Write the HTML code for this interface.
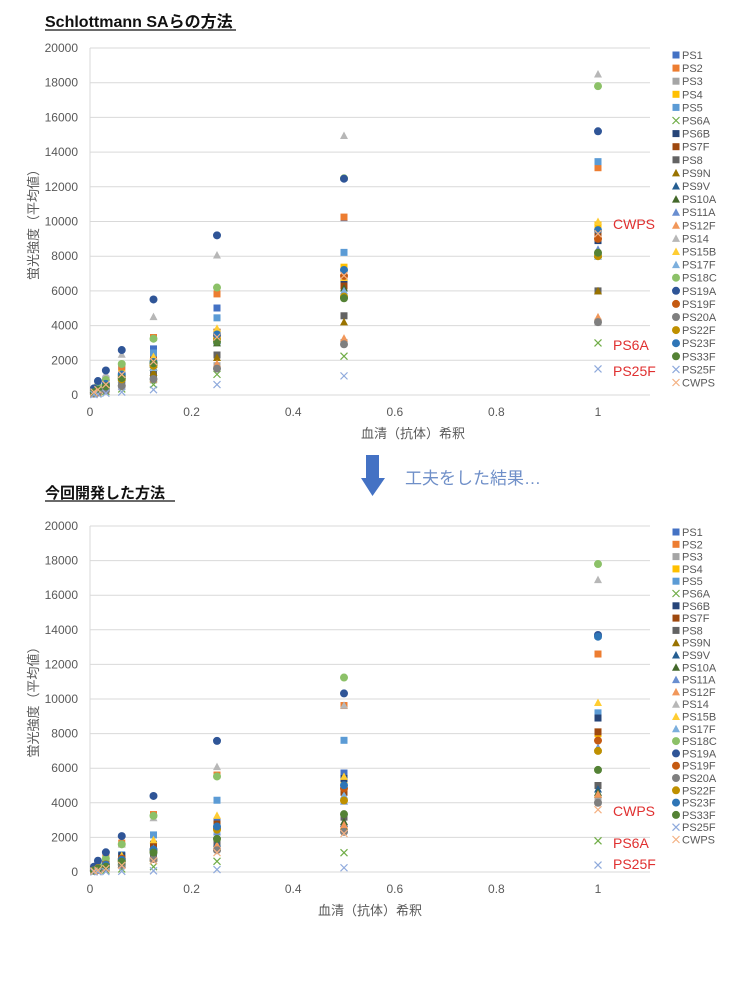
<!DOCTYPE html>
<html><head><meta charset="utf-8">
<style>
html,body{margin:0;padding:0;background:#fff;}
svg{display:block;font-family:"Liberation Sans","Noto Sans CJK JP",sans-serif;}
</style></head>
<body>
<svg id="s" width="736" height="981" xmlns="http://www.w3.org/2000/svg">
<text x="45" y="27" font-size="16" font-weight="bold" fill="#111">Schlottmann SAらの方法</text>
<line x1="45" y1="30" x2="236" y2="30" stroke="#111" stroke-width="1.3"/>
<text x="45" y="498" font-size="15" font-weight="bold" fill="#111">今回開発した方法</text>
<line x1="45" y1="501" x2="175" y2="501" stroke="#111" stroke-width="1.3"/>
<polygon points="366,455 379,455 379,478 385,478 372.5,496 361,478 366,478" fill="#4472c4"/>
<text x="405" y="484" font-size="17" fill="#6f8fc8">工夫をした結果…</text>
<g id="g"></g>
</svg>
<script>
var NS="http://www.w3.org/2000/svg",g=document.getElementById('g');
function el(t,a,txt){var e=document.createElementNS(NS,t);for(var k in a)e.setAttribute(k,a[k]);if(txt!=null)e.textContent=txt;g.appendChild(e);return e;}
var S=[["PS1","#4472c4","s"],["PS2","#ed7d31","s"],["PS3","#a5a5a5","s"],["PS4","#ffc000","s"],["PS5","#5b9bd5","s"],["PS6A","#70ad47","x"],["PS6B","#264478","s"],["PS7F","#9e480e","s"],["PS8","#636363","s"],["PS9N","#997300","t"],["PS9V","#255e91","t"],["PS10A","#43682b","t"],["PS11A","#698ed0","t"],["PS12F","#f1975a","t"],["PS14","#b7b7b7","t"],["PS15B","#ffcd33","t"],["PS17F","#7cafdd","t"],["PS18C","#8cc168","c"],["PS19A","#2f5597","c"],["PS19F","#c55a11","c"],["PS20A","#7f7f7f","c"],["PS22F","#bf9000","c"],["PS23F","#2e75b6","c"],["PS33F","#548235","c"],["PS25F","#8faadc","x"],["CWPS","#f4b183","x"]];
var V1=[13400,13100,4200,9800,13450,3000,8900,9200,6000,6000,8300,8100,8400,4500,18500,10000,8000,17800,15200,9000,4200,8000,9500,8200,1500,9300];
var V2=[9000,12600,4200,8000,9200,1800,8900,8100,5000,4500,4800,4600,7200,4500,16900,9800,7100,17800,13700,7600,4000,7000,13600,5900,400,3600];
var X=[1,.5,.25,.125,.0625,.03125,.015625,.0078];
function mk(x,y,c,t){
 if(t=="s")el('rect',{x:x-3.5,y:y-3.5,width:7,height:7,fill:c});
 else if(t=="c")el('circle',{cx:x,cy:y,r:4,fill:c});
 else if(t=="t")el('polygon',{points:(x-4)+","+(y+3.5)+" "+(x+4)+","+(y+3.5)+" "+x+","+(y-4),fill:c});
 else el('path',{d:"M"+(x-3.5)+" "+(y-3.5)+"L"+(x+3.5)+" "+(y+3.5)+"M"+(x-3.5)+" "+(y+3.5)+"L"+(x+3.5)+" "+(y-3.5),stroke:c,"stroke-width":1.2,fill:"none"});
}
function chart(y0,y20,V,fdef,ov,xlY,xlX,legY,legD,ann){
 var px=function(x){return 90+x*508;},py=function(v){return y0-(y0-y20)*v/20000;};
 for(var i=0;i<=10;i++){var v=i*2000,y=py(v);
  el('line',{x1:90,y1:y,x2:650,y2:y,stroke:"#d9d9d9","stroke-width":1});
  el('text',{x:78,y:y+4,"font-size":12,fill:"#595959","text-anchor":"end"},v);}
 el('line',{x1:90,y1:y20,x2:90,y2:y0,stroke:"#d9d9d9"});
 for(var i=0;i<=5;i++){el('text',{x:px(i*.2),y:y0+21,"font-size":12,fill:"#595959","text-anchor":"middle"},i==0?"0":(i*.2).toFixed(1).replace(/\.0$/,""));}
 el('text',{x:xlX,y:xlY,"font-size":13,fill:"#595959","text-anchor":"middle"},"血清（抗体）希釈");
 var cy=(y0+y20)/2;
 el('text',{x:0,y:0,"font-size":13,fill:"#595959","text-anchor":"middle",transform:"translate(38,"+cy+") rotate(-90)"},"蛍光強度（平均値）");
 for(var s=0;s<S.length;s++){
  var f=ov[S[s][0]]||fdef;
  for(var k=0;k<X.length;k++){
   var j=k==0?1:(1+0.06*Math.sin(s*2.3+k*1.7));
   var v=V[s]*f[k]*j; mk(px(X[k]),py(v),S[s][1],S[s][2]);}
  var ly=legY+s*legD; mk(676,ly,S[s][1],S[s][2]);
  el('text',{x:682,y:ly+4,"font-size":11,fill:"#595959"},S[s][0]);
 }
 for(var a=0;a<ann.length;a++)el('text',{x:613,y:ann[a][1]+5,"font-size":14,fill:"#e03030"},ann[a][0]);
}
chart(395,48,V1,[1,.72,.38,.21,.12,.065,.035,.018],
 {"PS19A":[1,.86,.58,.35,.18,.095,.05,.025],"PS14":[1,.78,.46,.25,.12,.065,.035,.018],"PS2":[1,.82,.46,.24,.12,.065,.035,.018],"PS18C":[1,.7,.37,.18,.095,.05,.03,.015],"PS5":[1,.65,.33,.17,.09,.05,.03,.015]},
 438,413,55,13.1,[["CWPS",224],["PS6A",345],["PS25F",371]]);
chart(872,526,V2,[1,.6,.33,.18,.1,.055,.03,.015],
 {"PS19A":[1,.79,.53,.31,.16,.085,.045,.022],"PS2":[1,.8,.46,.25,.13,.07,.035,.018],"PS5":[1,.88,.45,.22,.11,.06,.03,.015],"PS18C":[1,.63,.33,.18,.085,.045,.025,.012],"PS14":[1,.55,.38,.19,.09,.05,.025,.012],"PS23F":[1,.35,.2,.1,.05,.03,.015,.008]},
 915,370,532,12.3,[["CWPS",811],["PS6A",843],["PS25F",864]]);
</script>
</body></html>
